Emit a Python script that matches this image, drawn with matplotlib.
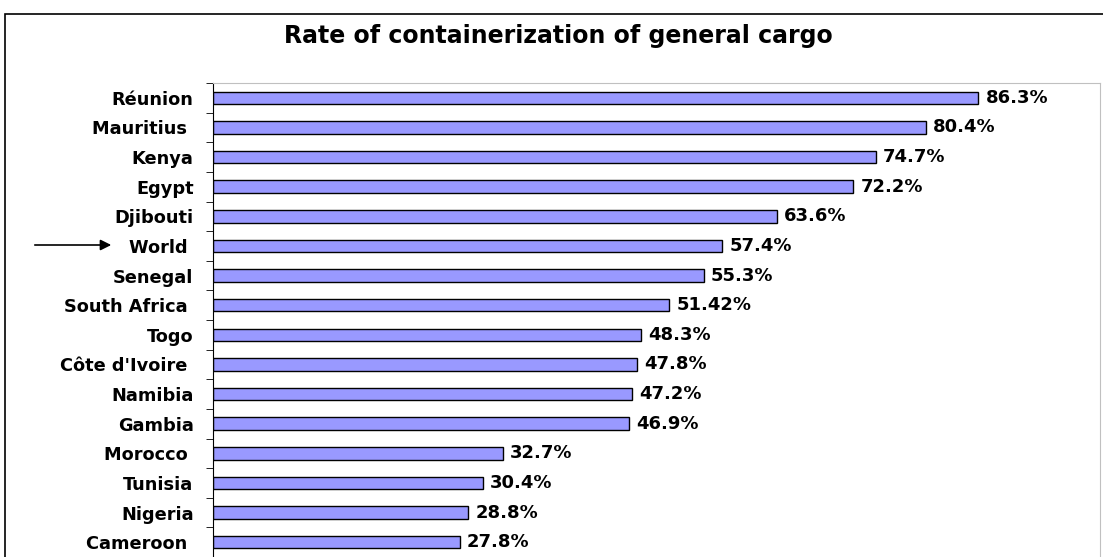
import matplotlib.pyplot as plt
import numpy as np
from matplotlib.patches import Rectangle

countries = ["Réunion", "Mauritius ", "Kenya", "Egypt", "Djibouti", "World ",
             "Senegal", "South Africa ", "Togo", "Côte d'Ivoire ", "Namibia",
             "Gambia", "Morocco ", "Tunisia", "Nigeria", "Cameroon "]
rates = [86.3, 80.4, 74.7, 72.2, 63.6, 57.4, 55.3, 51.42, 48.3, 47.8, 47.2,
         46.9, 32.7, 30.4, 28.8, 27.8]
rate_labels = ["86.3%", "80.4%", "74.7%", "72.2%", "63.6%", "57.4%", "55.3%",
               "51.42%", "48.3%", "47.8%", "47.2%", "46.9%", "32.7%", "30.4%",
               "28.8%", "27.8%"]

W, H = 1103, 557
fig = plt.figure(figsize=(W / 100, H / 100), dpi=100)

# outer chart border
fig.patches.append(Rectangle((5 / W, -0.01), 1.02, 1 - 14 / H + 0.01,
                             transform=fig.transFigure, fill=False,
                             edgecolor="black", linewidth=1.2))

ax = fig.add_axes([213 / W, 0, (1100 - 213) / W, (557 - 83) / H])
y = np.arange(len(countries))
ax.barh(y, rates, height=0.42, color="#9999FF", edgecolor="black",
        linewidth=1.0)
ax.set_xlim(0, 100)
ax.set_ylim(len(countries) - 0.5, -0.5)

for yi, r, lab in zip(y, rates, rate_labels):
    ax.text(r + 0.8, yi, lab, va="center", ha="left", fontsize=13,
            fontweight="bold")

ax.set_yticks(y)
ax.set_yticklabels(countries, fontsize=12.8, fontweight="bold")
ax.set_yticks(np.arange(len(countries) + 1) - 0.5, minor=True)
ax.tick_params(axis="y", which="major", length=0, pad=14)
ax.tick_params(axis="y", which="minor", length=5, direction="out")
ax.set_xticks([])

for side in ["top", "right"]:
    ax.spines[side].set_color("#c0c0c0")
ax.spines["bottom"].set_visible(False)
ax.spines["left"].set_color("black")

fig.text(558 / W, 1 - 36 / H, "Rate of containerization of general cargo",
         ha="center", va="center", fontsize=17, fontweight="bold")

# arrow pointing to World
ax.annotate("", xy=(114 / W, 1 - 245 / H), xytext=(32 / W, 1 - 245 / H),
            xycoords="figure fraction", textcoords="figure fraction",
            arrowprops=dict(arrowstyle="-|>", color="black", lw=1.2,
                            mutation_scale=16), annotation_clip=False)

fig.savefig("out.png", dpi=100)
